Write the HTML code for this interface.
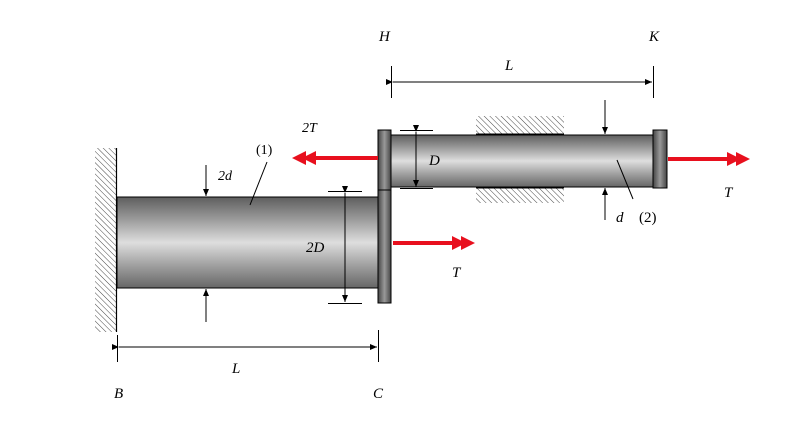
<!DOCTYPE html>
<html><head><meta charset="utf-8"><style>html,body{margin:0;padding:0;background:#fff}svg{display:block}</style></head>
<body>
<svg width="786" height="442" viewBox="0 0 786 442" xmlns="http://www.w3.org/2000/svg" font-family="Liberation Serif, serif" font-style="italic" font-size="15">
<defs>
<linearGradient id="sh" x1="0" y1="0" x2="0" y2="1">
<stop offset="0" stop-color="#5e5e5e"/><stop offset="0.25" stop-color="#9c9c9c"/><stop offset="0.5" stop-color="#dedede"/><stop offset="0.75" stop-color="#a0a0a0"/><stop offset="1" stop-color="#666"/>
</linearGradient>
<linearGradient id="fl" x1="0" y1="0" x2="1" y2="0">
<stop offset="0" stop-color="#444"/><stop offset="0.5" stop-color="#999"/><stop offset="1" stop-color="#444"/>
</linearGradient>
<pattern id="hat" width="4" height="4" patternUnits="userSpaceOnUse" patternTransform="rotate(-45)">
<line x1="0" y1="0" x2="0" y2="4" stroke="#333" stroke-width="0.9"/>
</pattern>
<marker id="ah" markerWidth="8" markerHeight="8" refX="7" refY="4" orient="auto" markerUnits="userSpaceOnUse"><path d="M0,1 L7,4 L0,7 Z" fill="#000"/></marker>
</defs>
<rect x="95" y="148" width="21" height="184" fill="url(#hat)"/>
<line x1="116.5" y1="148" x2="116.5" y2="332" stroke="#000" stroke-width="1.2"/>
<rect x="476" y="116" width="88" height="19" fill="url(#hat)"/>
<rect x="476" y="187" width="88" height="16" fill="url(#hat)"/>
<rect x="117" y="197" width="261" height="91" fill="url(#sh)" stroke="#000" stroke-width="1"/>
<rect x="391" y="135" width="262" height="52" fill="url(#sh)" stroke="#000" stroke-width="1"/>
<line x1="476" y1="134.5" x2="564" y2="134.5" stroke="#000" stroke-width="2"/>
<line x1="476" y1="187.5" x2="564" y2="187.5" stroke="#000" stroke-width="2"/>
<rect x="378" y="130" width="13" height="60" fill="url(#fl)" stroke="#000" stroke-width="1"/>
<rect x="378" y="190" width="13" height="113" fill="url(#fl)" stroke="#000" stroke-width="1"/>
<rect x="653" y="130" width="14" height="58" fill="url(#fl)" stroke="#000" stroke-width="1"/>
<g fill="#e8101e" stroke="none">
<rect x="310" y="156" width="68" height="4"/>
<path d="M292,158 L306,151 L306,165 Z M302,158 L316,151 L316,165 Z"/>
<rect x="393" y="241" width="66" height="4"/>
<path d="M475,243 L461,236 L461,250 Z M466,243 L452,236 L452,250 Z"/>
<rect x="668" y="157" width="66" height="4"/>
<path d="M750,159 L736,152 L736,166 Z M741,159 L727,152 L727,166 Z"/>
</g>
<g stroke="#000" stroke-width="1" fill="none">
<line x1="391.5" y1="66" x2="391.5" y2="98"/><line x1="653.5" y1="66" x2="653.5" y2="98"/>
<line x1="393" y1="82" x2="652" y2="82" marker-end="url(#ah)" marker-start="url(#ah)"/>
<line x1="117.5" y1="335" x2="117.5" y2="362"/><line x1="378.5" y1="330" x2="378.5" y2="362"/>
<line x1="119" y1="347" x2="377" y2="347" marker-end="url(#ah)" marker-start="url(#ah)"/>
<line x1="328" y1="191.5" x2="362" y2="191.5"/><line x1="328" y1="303.5" x2="362" y2="303.5"/>
<line x1="345" y1="193" x2="345" y2="302" marker-end="url(#ah)" marker-start="url(#ah)"/>
<line x1="400" y1="130.5" x2="433" y2="130.5"/><line x1="400" y1="188.5" x2="433" y2="188.5"/>
<line x1="416" y1="132" x2="416" y2="187" marker-end="url(#ah)" marker-start="url(#ah)"/>
<line x1="206" y1="165" x2="206" y2="196" marker-end="url(#ah)"/>
<line x1="206" y1="322" x2="206" y2="289" marker-end="url(#ah)"/>
<line x1="605" y1="100" x2="605" y2="134" marker-end="url(#ah)"/>
<line x1="605" y1="220" x2="605" y2="188" marker-end="url(#ah)"/>
<line x1="267" y1="162" x2="250" y2="205"/>
<line x1="617" y1="160" x2="633" y2="199"/>
</g>
<g fill="#000">
<text x="379" y="41">H</text>
<text x="649" y="41">K</text>
<text x="505" y="70">L</text>
<text x="302" y="132" font-size="14">2T</text>
<text x="256" y="154" font-style="normal" font-size="14">(1)</text>
<text x="218" y="180" font-size="14">2d</text>
<text x="429" y="165">D</text>
<text x="306" y="252">2D</text>
<text x="452" y="277">T</text>
<text x="616" y="222">d</text>
<text x="639" y="222" font-style="normal">(2)</text>
<text x="724" y="197">T</text>
<text x="232" y="373">L</text>
<text x="114" y="398">B</text>
<text x="373" y="398">C</text>
</g>
</svg>
</body></html>
